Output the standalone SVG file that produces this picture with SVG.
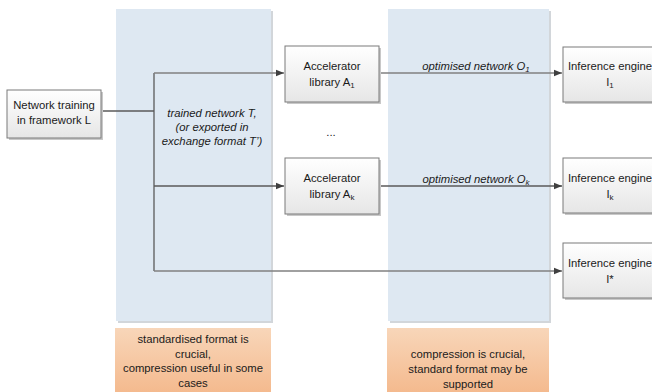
<svg xmlns="http://www.w3.org/2000/svg" width="652" height="392" viewBox="0 0 652 392">
  <defs>
    <linearGradient id="boxFill" x1="0" y1="0" x2="0" y2="1">
      <stop offset="0" stop-color="#ffffff"/>
      <stop offset="1" stop-color="#e6e6e6"/>
    </linearGradient>
    <linearGradient id="noteFill" x1="0" y1="0" x2="0" y2="1">
      <stop offset="0" stop-color="#f8d6b9"/>
      <stop offset="1" stop-color="#f4b98d"/>
    </linearGradient>
    <marker id="arrow" viewBox="0 0 8 8" refX="8" refY="4" markerWidth="8" markerHeight="8" markerUnits="userSpaceOnUse" orient="auto">
      <path d="M0,0.8 L8,4 L0,7.2 Z" fill="#404040"/>
    </marker>
    <style>
      .panel { fill: #dee8f2; }
      .panelShadow { fill: #d2d6da; }
      .box { fill: url(#boxFill); stroke: #7a7a7a; stroke-width: 1; }
      .boxShadow { fill: #c8c8c8; }
      .note { fill: url(#noteFill); }
      .lbl { font-family: "Liberation Sans", Arial, sans-serif; font-size: 11.3px; fill: #1a1a1a; text-anchor: middle; }
      .it { font-style: italic; }
      .edge { fill: none; stroke: #5a5a5a; stroke-width: 1.3; }
      .edge2 { fill: none; stroke: #808080; stroke-width: 1.6; }
    </style>
  </defs>

  <!-- background panels -->
  <g id="panels">
    <rect class="panelShadow" x="118" y="11" width="155" height="312"/>
    <rect class="panel" x="116" y="9" width="155" height="312"/>
    <rect class="panelShadow" x="390" y="11" width="161" height="312"/>
    <rect class="panel" x="388" y="9" width="161" height="312"/>
  </g>

  <!-- notes under the panels -->
  <g id="note-standard">
    <rect class="note" x="115" y="328" width="156" height="66"/>
    <text class="lbl" x="193" y="343">standardised format is</text>
    <text class="lbl" x="193" y="357.5">crucial,</text>
    <text class="lbl" x="193" y="372">compression useful in some</text>
    <text class="lbl" x="193" y="386.5">cases</text>
  </g>
  <g id="note-compression">
    <rect class="note" x="387" y="328" width="162" height="66"/>
    <text class="lbl" x="468" y="358">compression is crucial,</text>
    <text class="lbl" x="468" y="373">standard format may be</text>
    <text class="lbl" x="468" y="387.5">supported</text>
  </g>

  <!-- connectors -->
  <g id="connectors">
    <path class="edge" d="M102,111 H154"/>
    <path class="edge" d="M154,73 V271"/>
    <path class="edge2" d="M154,73 H284" marker-end="url(#arrow)"/>
    <path class="edge" d="M154,186 H284" marker-end="url(#arrow)"/>
    <path class="edge2" d="M154,271 H562" marker-end="url(#arrow)"/>
    <path class="edge2" d="M380,73 H562" marker-end="url(#arrow)"/>
    <path class="edge" d="M380,186 H562" marker-end="url(#arrow)"/>
    <text class="lbl it" x="212" y="117">trained network T,</text>
    <text class="lbl it" x="212" y="131">(or exported in</text>
    <text class="lbl it" x="212" y="145">exchange format T’)</text>
    <text class="lbl it" x="476" y="70">optimised network O<tspan font-size="8" dy="2">1</tspan></text>
    <text class="lbl it" x="476" y="183">optimised network O<tspan font-size="8" dy="2">k</tspan></text>
    <text class="lbl" x="331" y="136">...</text>
  </g>

  <!-- nodes -->
  <g id="node-training">
    <rect class="boxShadow" x="9" y="92" width="94" height="48"/>
    <rect class="box" x="7" y="90" width="94" height="48"/>
    <text class="lbl" x="54" y="109">Network training</text>
    <text class="lbl" x="54" y="124">in framework L</text>
  </g>
  <g id="node-accel-1">
    <rect class="boxShadow" x="287" y="48" width="94" height="56"/>
    <rect class="box" x="285" y="46" width="94" height="56"/>
    <text class="lbl" x="332" y="70">Accelerator</text>
    <text class="lbl" x="332" y="86">library A<tspan font-size="8" dy="2">1</tspan></text>
  </g>
  <g id="node-accel-k">
    <rect class="boxShadow" x="287" y="160" width="94" height="56"/>
    <rect class="box" x="285" y="158" width="94" height="56"/>
    <text class="lbl" x="332" y="182">Accelerator</text>
    <text class="lbl" x="332" y="198">library A<tspan font-size="8" dy="2">k</tspan></text>
  </g>
  <g id="node-engine-1">
    <rect class="boxShadow" x="565" y="49" width="94" height="55"/>
    <rect class="box" x="563" y="47" width="94" height="55"/>
    <text class="lbl" x="610" y="70">Inference engine</text>
    <text class="lbl" x="610" y="86">I<tspan font-size="8" dy="2">1</tspan></text>
  </g>
  <g id="node-engine-k">
    <rect class="boxShadow" x="565" y="160" width="94" height="55"/>
    <rect class="box" x="563" y="158" width="94" height="55"/>
    <text class="lbl" x="610" y="182">Inference engine</text>
    <text class="lbl" x="610" y="198">I<tspan font-size="8" dy="2">k</tspan></text>
  </g>
  <g id="node-engine-star">
    <rect class="boxShadow" x="565" y="245" width="94" height="55"/>
    <rect class="box" x="563" y="243" width="94" height="55"/>
    <text class="lbl" x="610" y="267">Inference engine</text>
    <text class="lbl" x="610" y="283">I*</text>
  </g>
</svg>
